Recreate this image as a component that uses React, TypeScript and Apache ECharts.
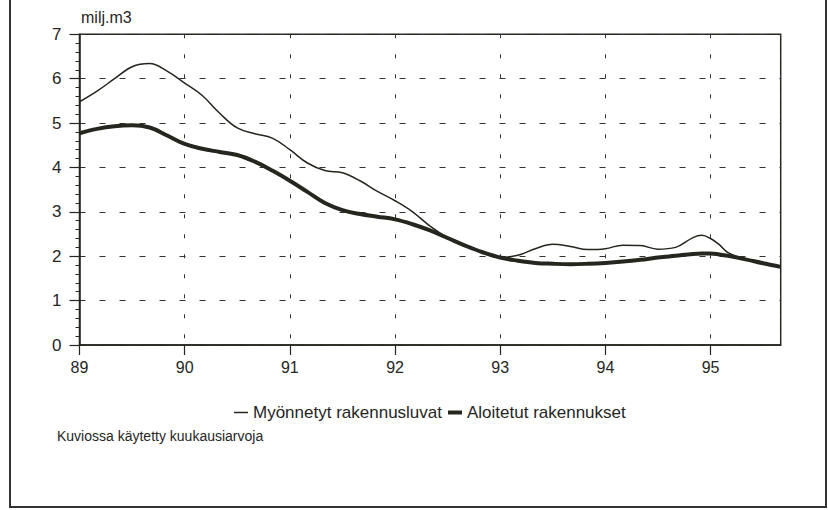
import React, { useEffect, useRef } from "react";
import * as echarts from "echarts";

// decimal years (mostly every second month, 89 = 1989)
const years = [
  89.0, 89.167, 89.333, 89.5, 89.667, 89.833,
  90.0, 90.167, 90.333, 90.5, 90.667, 90.833,
  91.0, 91.167, 91.333, 91.5, 91.667, 91.833,
  92.0, 92.167, 92.333, 92.5, 92.667, 92.833,
  93.0, 93.167, 93.333, 93.5, 93.667, 93.833,
  94.0, 94.167, 94.333, 94.5, 94.667, 94.833, 94.917,
  95.0, 95.083, 95.167, 95.333, 95.5, 95.667,
];

const myonnetyt = [
  5.48, 5.72, 6.0, 6.27, 6.34, 6.17,
  5.9, 5.62, 5.22, 4.89, 4.76, 4.66,
  4.4, 4.1, 3.93, 3.88, 3.7, 3.46,
  3.25, 3.0, 2.68, 2.42, 2.23, 2.08,
  1.97, 2.02, 2.17, 2.27, 2.22, 2.15,
  2.17, 2.25, 2.24, 2.16, 2.2, 2.42, 2.47,
  2.4, 2.26, 2.08, 1.93, 1.85, 1.76,
];

const aloitetut = [
  4.77, 4.87, 4.93, 4.95, 4.9, 4.72,
  4.53, 4.42, 4.35, 4.28, 4.13, 3.93,
  3.7, 3.45, 3.2, 3.04, 2.95, 2.89,
  2.83, 2.72, 2.58, 2.41, 2.24, 2.09,
  1.97, 1.9, 1.85, 1.83, 1.82, 1.83,
  1.85, 1.88, 1.92, 1.97, 2.01, 2.05, 2.06,
  2.06, 2.04, 2.01, 1.93, 1.84, 1.76,
];

const seriesNames = ["Myönnetyt rakennusluvat", "Aloitetut rakennukset"];
const unitLabel = "milj.m3";
const footnote = "Kuviossa käytetty kuukausiarvoja";

const FONT = "'Liberation Sans', Arial, sans-serif";
const INK = "#26261f";

export default function App() {
  const ref = useRef<HTMLDivElement>(null);

  useEffect(() => {
    if (!ref.current) return;
    const chart = echarts.init(ref.current, null, { renderer: "svg" });
    const pairs = (vals: number[]) => years.map((y, i) => [y, vals[i]]);
    chart.setOption({
      animation: false,
      backgroundColor: "#ffffff",
      textStyle: { fontFamily: FONT, color: INK },
      grid: {
        left: 79.5,
        right: 47.3,
        top: 34.3,
        bottom: 165,
        show: true,
        borderColor: INK,
        borderWidth: 1.5,
        backgroundColor: "transparent",
      },
      xAxis: {
        type: "value",
        min: 89,
        max: 95.667,
        interval: 1,
        axisLine: { lineStyle: { color: INK, width: 1.5 } },
        axisTick: { length: 10, lineStyle: { color: INK, width: 1.2 } },
        axisLabel: {
          margin: 14,
          fontSize: 16,
          color: INK,
          fontFamily: FONT,
          showMaxLabel: false,
          formatter: (v: number) => (Math.abs(v - Math.round(v)) < 1e-6 ? String(Math.round(v)) : ""),
        },
        splitLine: { show: true, lineStyle: { color: "#333", width: 1, type: [4, 16] } },
      },
      yAxis: {
        type: "value",
        min: 0,
        max: 7,
        interval: 1,
        axisLine: { show: true, lineStyle: { color: INK, width: 1.5 } },
        axisTick: { show: true, length: 10, lineStyle: { color: INK, width: 1.2 } },
        minorTick: { show: true, splitNumber: 5, length: 4, lineStyle: { color: INK, width: 1 } },
        axisLabel: { margin: 18, fontSize: 17, color: INK, fontFamily: FONT },
        splitLine: { show: true, lineStyle: { color: "#333", width: 1, type: [6, 14] } },
      },
      legend: {
        left: 229,
        top: 399,
        itemWidth: 14,
        itemHeight: 4,
        itemGap: 6,
        symbolKeepAspect: true,
        textStyle: { fontSize: 17, color: INK, fontFamily: FONT },
        data: [
          { name: seriesNames[0], icon: "path://M0,0 H14 V1.5 H0 Z" },
          { name: seriesNames[1], icon: "path://M0,0 H14 V4 H0 Z" },
        ],
      },
      graphic: [
        {
          type: "rect",
          shape: { x: 10, y: -10, width: 816, height: 517 },
          style: { fill: "none", stroke: "#333", lineWidth: 2 },
          silent: true,
        },
        {
          type: "text",
          left: 81,
          top: 9,
          style: { text: unitLabel, fontSize: 16, fill: INK, fontFamily: FONT },
        },
        {
          type: "text",
          left: 57,
          top: 429,
          style: { text: footnote, fontSize: 14, fill: INK, fontFamily: FONT },
        },
      ],
      series: [
        {
          name: seriesNames[0],
          type: "line",
          data: pairs(myonnetyt),
          smooth: 0.4,
          showSymbol: false,
          symbol: "none",
          lineStyle: { color: INK, width: 1.5 },
          itemStyle: { color: INK },
        },
        {
          name: seriesNames[1],
          type: "line",
          data: pairs(aloitetut),
          smooth: 0.4,
          showSymbol: false,
          symbol: "none",
          lineStyle: { color: INK, width: 4 },
          itemStyle: { color: INK },
        },
      ],
    });
    return () => chart.dispose();
  }, []);

  return (
    <div
      ref={ref}
      style={{ position: "absolute", left: 0, top: 0, width: 828, height: 510, background: "#fff" }}
    />
  );
}
